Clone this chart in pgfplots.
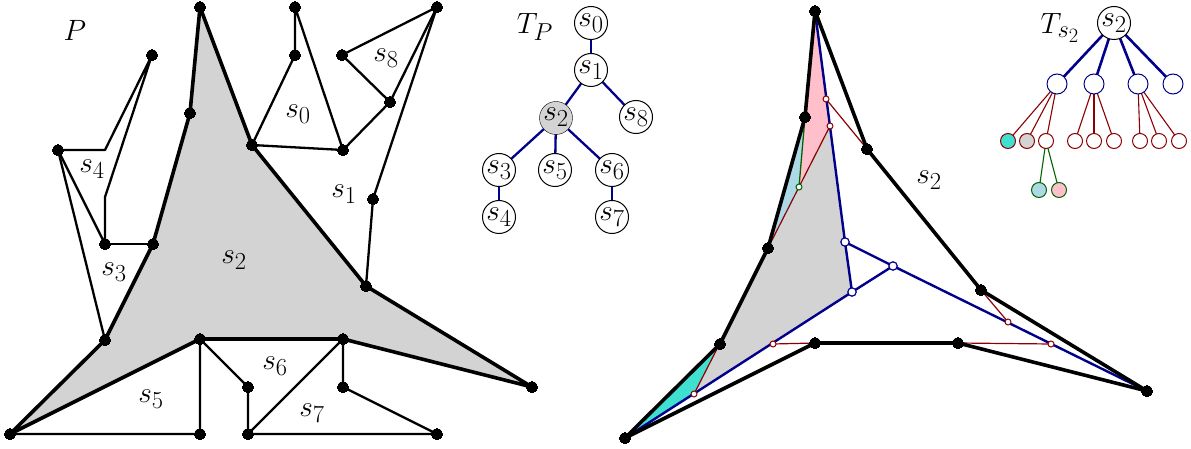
\documentclass[border=0pt]{standalone}
\usepackage{pgfplots}
\pgfplotsset{compat=1.18}
\definecolor{gr}{RGB}{211,211,211}
\definecolor{pk}{RGB}{255,192,203}
\definecolor{lb}{RGB}{173,216,230}
\definecolor{tq}{RGB}{64,224,208}
\definecolor{nv}{RGB}{0,0,139}
\definecolor{dr}{RGB}{139,0,0}
\definecolor{dg}{RGB}{0,100,0}
\tikzset{lab/.style={inner sep=0pt,font=\Huge,scale=1.18,text=black}}
\pgfplotsset{
 canvas/.style={width=1191pt,height=449pt,scale only axis,xmin=0,xmax=1191,ymin=0,ymax=449,y dir=reverse,hide axis,clip=false},
 thin line/.style={black,line width=2.3pt,no markers,line join=round},
 thick line/.style={black,line width=3.6pt,no markers,line join=round},
 vert/.style={only marks,mark=*,mark size=5.5pt,mark options={fill=black,draw=black,line width=0pt}},
 nodemark/.style={only marks,mark=*,mark size=#1pt,mark options={draw=black,fill=white,line width=1pt}},
}
\begin{document}
\begin{tikzpicture}
\begin{axis}[canvas]
\path (axis cs:0,0) rectangle (axis cs:1191,449);
% ---- left polygon P
\addplot[fill=gr,draw=none] coordinates {(200,7)(190,113)(153,244)(105,340)(10,434)(200,339)(343,339)(532,387)(366,286)(252,145)} -- cycle;
\addplot[thin line] coordinates {(252,145)(295,55)(295,7)(343,150)(252,145)};
\addplot[thin line] coordinates {(343,150)(390,102)(342,55)(437,7)(390,102)};
\addplot[thin line] coordinates {(437,7)(373,199)(366,286)};
\addplot[thin line] coordinates {(152,55)(105,150)(58,150)(105,244)(105,197)(152,55)};
\addplot[thin line] coordinates {(58,150)(105,340)};
\addplot[thin line] coordinates {(105,244)(153,244)};
\addplot[thin line] coordinates {(10,434)(200,434)(200,339)(248,387)(248,434)(343,339)};
\addplot[thin line] coordinates {(248,434)(437,434)(343,387)(343,339)};
\addplot[thick line] coordinates {(200,7)(190,113)(153,244)(105,340)(10,434)(200,339)(343,339)(532,387)(366,286)(252,145)(200,7)};
\addplot[vert] coordinates {(200,7)(190,113)(252,145)(295,7)(295,55)(343,150)(342,55)(390,102)(437,7)(373,199)(366,286)(532,387)(343,339)(200,339)(343,387)(248,387)(248,434)(437,434)(200,434)(10,434)(105,340)(153,244)(105,244)(58,150)(152,55)};
% ---- tree T_P
\addplot[nv,line width=2.3pt,no markers] coordinates {(591,23)(591,70)};
\addplot[nv,line width=2.3pt,no markers] coordinates {(591,70)(556,118)};
\addplot[nv,line width=2.3pt,no markers] coordinates {(591,70)(636,117)};
\addplot[nv,line width=2.3pt,no markers] coordinates {(556,118)(499,170)};
\addplot[nv,line width=2.3pt,no markers] coordinates {(556,118)(555,170)};
\addplot[nv,line width=2.3pt,no markers] coordinates {(556,118)(612,170)};
\addplot[nv,line width=2.3pt,no markers] coordinates {(499,170)(499,217)};
\addplot[nv,line width=2.3pt,no markers] coordinates {(612,170)(612,217)};
\addplot[nodemark=16.5] coordinates {(591,23)(591,70)(636,117)(499,170)(555,170)(612,170)(499,217)(612,217)};
\addplot[nodemark=16.5,mark options={fill=gr}] coordinates {(556,118)};
% ---- right polygon
\addplot[fill=gr,draw=none] coordinates {(830,126)(845,242)(852,292)(694,394)(720,343)(768,248)} -- cycle;
\addplot[fill=pk,draw=none] coordinates {(815,11)(830,126)(799,187)(805,117)} -- cycle;
\addplot[fill=lb,draw=none] coordinates {(805,117)(799,187)(768,248)} -- cycle;
\addplot[fill=tq,draw=none] coordinates {(625,438)(694,394)(720,343)} -- cycle;
\addplot[dr,line width=1.2pt,no markers] coordinates {(826,99)(867,149)};
\addplot[dr,line width=1.2pt,no markers] coordinates {(830,126)(768,248)};
\addplot[dr,line width=1.2pt,no markers] coordinates {(720,343)(694,394)};
\addplot[dr,line width=1.2pt,no markers] coordinates {(773,344)(815,343)};
\addplot[dr,line width=1.2pt,no markers] coordinates {(981,290)(1008,322)};
\addplot[dr,line width=1.2pt,no markers] coordinates {(958,343)(1051,344)};
\addplot[dg,line width=1.3pt,no markers] coordinates {(805,117)(799,187)};
\addplot[nv,line width=2.4pt,no markers,line join=round] coordinates {(815,11)(845,242)(852,292)(625,438)};
\addplot[nv,line width=2.4pt,no markers,line join=round] coordinates {(852,292)(893,266)(845,242)};
\addplot[nv,line width=2.4pt,no markers] coordinates {(893,266)(1147,391)};
\addplot[thick line] coordinates {(815,11)(805,117)(768,248)(720,344)(625,438)(815,343)(958,343)(1147,391)(981,290)(867,149)(815,11)};
\addplot[vert] coordinates {(815,11)(805,117)(768,248)(720,344)(625,438)(815,343)(958,343)(1147,391)(981,290)(867,149)};
\addplot[only marks,mark=*,mark size=4.2pt,mark options={draw=nv,fill=white,line width=1.2pt}] coordinates {(845,242)(852,292)(893,266)};
\addplot[only marks,mark=*,mark size=3pt,mark options={draw=dr,fill=white,line width=1pt}] coordinates {(826,99)(830,126)(694,394)(773,344)(1008,322)(1051,344)};
\addplot[only marks,mark=*,mark size=3pt,mark options={draw=dg,fill=white,line width=1pt}] coordinates {(799,187)};
% ---- tree T_s2
\addplot[nv,line width=2.6pt,no markers] coordinates {(1114,23)(1057,84)};
\addplot[nv,line width=2.6pt,no markers] coordinates {(1114,23)(1094,84)};
\addplot[nv,line width=2.6pt,no markers] coordinates {(1114,23)(1138,84)};
\addplot[nv,line width=2.6pt,no markers] coordinates {(1114,23)(1173,84)};
\addplot[dr,line width=1.1pt,no markers] coordinates {(1057,84)(1008,141)};
\addplot[dr,line width=1.1pt,no markers] coordinates {(1057,84)(1027,141)};
\addplot[dr,line width=1.1pt,no markers] coordinates {(1057,84)(1046,141)};
\addplot[dr,line width=1.1pt,no markers] coordinates {(1094,84)(1075,141)};
\addplot[dr,line width=1.1pt,no markers] coordinates {(1094,84)(1094,141)};
\addplot[dr,line width=1.1pt,no markers] coordinates {(1094,84)(1114,141)};
\addplot[dr,line width=1.1pt,no markers] coordinates {(1138,84)(1140,141)};
\addplot[dr,line width=1.1pt,no markers] coordinates {(1138,84)(1159,141)};
\addplot[dr,line width=1.1pt,no markers] coordinates {(1138,84)(1179,141)};
\addplot[dg,line width=1.1pt,no markers] coordinates {(1046,141)(1039,190)};
\addplot[dg,line width=1.1pt,no markers] coordinates {(1046,141)(1059,190)};
\addplot[nodemark=16.5] coordinates {(1114,23)};
\addplot[only marks,mark=*,mark size=10pt,mark options={draw=nv,fill=white,line width=1pt}] coordinates {(1057,84)(1094,84)(1138,84)(1173,84)};
\addplot[only marks,mark=*,mark size=7.5pt,mark options={draw=dr,fill=white,line width=1pt}] coordinates {(1046,141)(1075,141)(1094,141)(1114,141)(1140,141)(1159,141)(1179,141)};
\addplot[only marks,mark=*,mark size=7.5pt,mark options={draw=dr,fill=tq,line width=1pt}] coordinates {(1008,141)};
\addplot[only marks,mark=*,mark size=7.5pt,mark options={draw=dr,fill=gr,line width=1pt}] coordinates {(1027,141)};
\addplot[only marks,mark=*,mark size=7.5pt,mark options={draw=dg,fill=lb,line width=1pt}] coordinates {(1039,190)};
\addplot[only marks,mark=*,mark size=7.5pt,mark options={draw=dg,fill=pk,line width=1pt}] coordinates {(1059,190)};
\end{axis}
% ---- labels, in a second axis so that they lie above the marks
\begin{axis}[canvas]
\addplot[draw=none,no markers,forget plot] coordinates {(0,0)(1191,449)};
\node[lab] at (axis cs:75,30) {$P$};
\node[lab] at (axis cs:298,114) {$s_0$};
\node[lab] at (axis cs:386,58) {$s_8$};
\node[lab] at (axis cs:344,194) {$s_1$};
\node[lab] at (axis cs:92,169) {$s_4$};
\node[lab] at (axis cs:114,272) {$s_3$};
\node[lab] at (axis cs:234,260) {$s_2$};
\node[lab] at (axis cs:151,399) {$s_5$};
\node[lab] at (axis cs:275,366) {$s_6$};
\node[lab] at (axis cs:312,413) {$s_7$};
\node[lab] at (axis cs:535,27) {$T_P$};
\node[lab] at (axis cs:591,23) {$s_0$};
\node[lab] at (axis cs:591,70) {$s_1$};
\node[lab] at (axis cs:556,117) {$s_2$};
\node[lab] at (axis cs:636,117) {$s_8$};
\node[lab] at (axis cs:499,170) {$s_3$};
\node[lab] at (axis cs:555,170) {$s_5$};
\node[lab] at (axis cs:612,170) {$s_6$};
\node[lab] at (axis cs:499,217) {$s_4$};
\node[lab] at (axis cs:612,217) {$s_7$};
\node[lab] at (axis cs:929,180) {$s_2$};
\node[lab] at (axis cs:1114,23) {$s_2$};
\node[lab] at (axis cs:1060,28) {$T_{s_2}$};
\end{axis}
\end{tikzpicture}
\end{document}
